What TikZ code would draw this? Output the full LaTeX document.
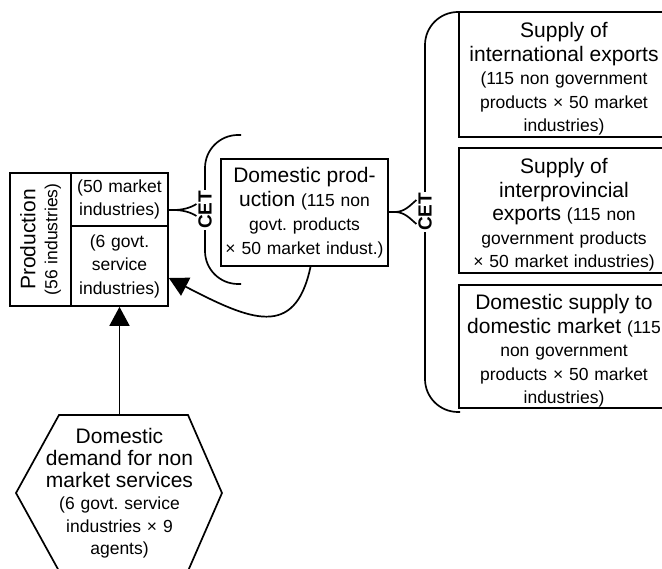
\documentclass[tikz,border=0pt]{standalone}
\usepackage{fontspec}
\setmainfont{Liberation Sans}
\usepackage{tikz}
\usetikzlibrary{arrows,arrows.meta,calc}
\frenchspacing
\newcommand{\bigf}{\fontsize{21}{23.5}\selectfont}
\newcommand{\smallf}{\fontsize{17.5}{23.5}\selectfont}
\newcommand{\topgap}{\rule{0pt}{24pt}}

\begin{document}
\begin{tikzpicture}[x=1pt,y=-1pt,line width=1.7pt,
    box/.style={draw,align=center,inner sep=0pt,font=\smallf},
    cet/.style={fill=white,rotate=90,inner sep=1pt,font=\fontsize{19}{19}\selectfont\bfseries},
    flow/.style={-{Triangle[length=19pt,width=20pt]}}]
    \useasboundingbox (0,0) rectangle (662,569);
    \clip (0,0) rectangle (662,569);

    % Production block
    \node[box,rotate=90,minimum width=133,minimum height=61,text width=130,
        font=\fontsize{17.5}{22}\selectfont] (prod) at (40.5,239.5) {{\bigf Production}\\(56 industries)};
    \node[box,minimum width=97,minimum height=53,text width=95] (mkt) at (119.5,199.5) {(50 market\\industries)};
    \node[box,minimum width=97,minimum height=80,text width=95] (gov) at (119.5,266) {(6 govt.\\service\\industries)};

    % Domestic production
    \node[box,minimum width=167,minimum height=107,text width=160,
        font=\fontsize{17.5}{24}\selectfont] (dom) at (304.5,212.5)
        {{\bigf Domestic prod-}\\{\bigf uction} (115 non\\govt. products\\\texttimes{} 50 market indust.)};

    % Supplies
    \node[box,minimum width=210,minimum height=125,text width=205] (intl) at (564,74.5)
        {\topgap{\bigf Supply of}\\{\bigf international exports}\\(115 non government\\products \texttimes{} 50 market\\industries)};
    \node[box,minimum width=210,minimum height=125,text width=205] (prov) at (564,210.5)
        {\topgap{\bigf Supply of}\\{\bigf interprovincial}\\{\bigf exports} (115 non\\government products\\\texttimes{} 50 market industries)};
    \node[box,minimum width=210,minimum height=123,text width=205] (dsup) at (564,346.5)
        {\topgap{\bigf Domestic supply to}\\{\bigf domestic market} (115\\non government\\products \texttimes{} 50 market\\industries)};

    % Non market demand
    \node[align=center,inner sep=0pt,text width=160,font=\fontsize{17.5}{22.3}\selectfont] (dmd) at (119.5,493)
        {{\bigf Domestic}\\{\bigf demand for non}\\{\bigf market services}\\(6 govt. service\\industries \texttimes{} 9\\agents)};
    \draw (59,415) -- (188,415) -- (222,493) -- (188,571) -- (59,571) -- (16,493) -- cycle;
    \coordinate (hextop) at (119.5,415);

    % CET brackets
    \draw[rounded corners=33] (241,135) -- (205,135) -- (205,284) -- (241,284);
    \draw[rounded corners=33] (460,12) -- (425,12) -- (425,412) -- (460,412);
    \node[cet] (cetL) at (205,210) {CET};
    \node[cet] (cetR) at (425,212) {CET};

    \draw (cetL -| mkt.east) -- ++(5,0) coordinate (fL);
    \draw (fL) .. controls +(8,0) and +(-6,4) .. ($(cetL.north)+(0,-6)$);
    \draw (fL) .. controls +(8,0) and +(-6,-4) .. ($(cetL.north)+(0,6)$);
    \draw (cetR -| dom.east) -- ++(6,0) coordinate (fR);
    \draw (fR) .. controls +(10,0) and +(-6,5) .. ($(cetR.north)+(0,-12)$);
    \draw (fR) .. controls +(10,0) and +(-6,-5) .. ($(cetR.north)+(0,12)$);

    % Flows into production
    \draw[flow] ($(dom.south)+(6,0)$) .. controls (295,340) and (250,320) .. ($(gov.east)+(0,12)$);
    \draw[flow] (hextop) -- (gov.south);
\end{tikzpicture}
\end{document}
